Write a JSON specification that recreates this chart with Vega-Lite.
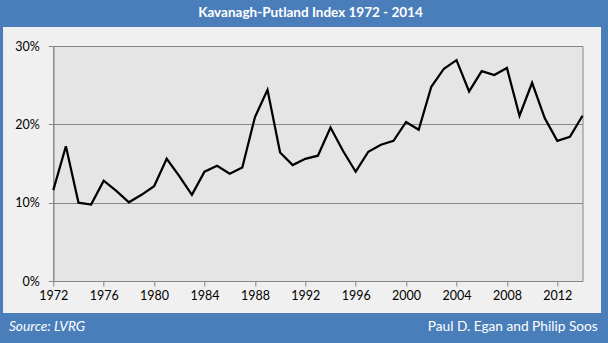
{
  "$schema": "https://vega.github.io/schema/vega-lite/v6.json",
  "autosize": "none",
  "width": 529.2,
  "height": 235,
  "padding": {"left": 53.3, "top": 46, "right": 25.5, "bottom": 62},
  "background": "#f0f0f0",
  "config": {
    "view": {"fill": "#e5e5e5", "stroke": "#868686", "strokeWidth": 1},
    "axis": {
      "domainColor": "#868686",
      "tickColor": "#868686",
      "tickSize": 5,
      "labelColor": "#000000",
      "labelFont": "Lato",
      "labelFontSize": 12.5,
      "gridColor": "#868686",
      "gridOpacity": 1,
      "title": null
    }
  },
  "data": {"values": [
    {"year": 1972, "value": 11.6},
    {"year": 1973, "value": 17.2},
    {"year": 1974, "value": 10.0},
    {"year": 1975, "value": 9.75},
    {"year": 1976, "value": 12.8},
    {"year": 1977, "value": 11.5},
    {"year": 1978, "value": 10.05},
    {"year": 1979, "value": 11.0},
    {"year": 1980, "value": 12.1},
    {"year": 1981, "value": 15.6},
    {"year": 1982, "value": 13.4},
    {"year": 1983, "value": 11.0},
    {"year": 1984, "value": 13.95},
    {"year": 1985, "value": 14.7},
    {"year": 1986, "value": 13.7},
    {"year": 1987, "value": 14.5},
    {"year": 1988, "value": 20.9},
    {"year": 1989, "value": 24.4},
    {"year": 1990, "value": 16.4},
    {"year": 1991, "value": 14.8},
    {"year": 1992, "value": 15.6},
    {"year": 1993, "value": 16.0},
    {"year": 1994, "value": 19.6},
    {"year": 1995, "value": 16.6},
    {"year": 1996, "value": 13.95},
    {"year": 1997, "value": 16.5},
    {"year": 1998, "value": 17.4},
    {"year": 1999, "value": 17.9},
    {"year": 2000, "value": 20.3},
    {"year": 2001, "value": 19.3},
    {"year": 2002, "value": 24.8},
    {"year": 2003, "value": 27.1},
    {"year": 2004, "value": 28.2},
    {"year": 2005, "value": 24.2},
    {"year": 2006, "value": 26.8},
    {"year": 2007, "value": 26.3},
    {"year": 2008, "value": 27.2},
    {"year": 2009, "value": 21.1},
    {"year": 2010, "value": 25.3},
    {"year": 2011, "value": 20.8},
    {"year": 2012, "value": 17.9},
    {"year": 2013, "value": 18.4},
    {"year": 2014, "value": 21.1}
  ]},
  "layer": [
    {
      "mark": {"type": "line", "color": "#000000", "strokeWidth": 2.25, "strokeJoin": "miter"},
      "encoding": {
        "x": {
          "field": "year", "type": "quantitative",
          "scale": {"domain": [1972, 2014], "nice": false, "zero": false},
          "axis": {"values": [1972, 1976, 1980, 1984, 1988, 1992, 1996, 2000, 2004, 2008, 2012], "format": "d", "grid": false, "labelPadding": 3, "labelFlush": false, "title": null}
        },
        "y": {
          "field": "value", "type": "quantitative",
          "scale": {"domain": [0, 30], "nice": false},
          "axis": {"values": [0, 10, 20, 30], "labelExpr": "datum.value + '%'", "grid": true, "labelPadding": 9, "title": null}
        }
      }
    },
    {
      "data": {"values": [{}]},
      "mark": {"type": "rect", "color": "#4a7ebb"},
      "encoding": {
        "x": {"datum": 1960}, "x2": {"datum": 2025},
        "y": {"datum": 32.43}, "y2": {"datum": 40}
      }
    },
    {
      "data": {"values": [{}]},
      "mark": {"type": "rect", "color": "#4a7ebb"},
      "encoding": {
        "x": {"datum": 1960}, "x2": {"datum": 2025},
        "y": {"datum": -4.085}, "y2": {"datum": -12}
      }
    },
    {
      "data": {"values": [{}]},
      "mark": {"type": "rect", "color": "#4a7ebb"},
      "encoding": {
        "x": {"datum": 1960}, "x2": {"datum": 1968.01},
        "y": {"datum": -12}, "y2": {"datum": 40}
      }
    },
    {
      "data": {"values": [{}]},
      "mark": {"type": "rect", "color": "#4a7ebb"},
      "encoding": {
        "x": {"datum": 2015.47}, "x2": {"datum": 2025},
        "y": {"datum": -12}, "y2": {"datum": 40}
      }
    },
    {
      "data": {"values": [{"label": "Kavanagh-Putland Index 1972 - 2014"}]},
      "mark": {"type": "text", "color": "#ffffff", "font": "Lato", "fontWeight": "bold", "fontSize": 13.5, "align": "center", "baseline": "middle"},
      "encoding": {
        "x": {"datum": 1992.41},
        "y": {"datum": 34.15},
        "text": {"field": "label"}
      }
    },
    {
      "data": {"values": [{"label": "Source: LVRG"}]},
      "mark": {"type": "text", "color": "#ffffff", "font": "Lato", "fontStyle": "italic", "fontSize": 13.7, "align": "left", "baseline": "middle"},
      "encoding": {
        "x": {"datum": 1968.48},
        "y": {"datum": -5.87},
        "text": {"field": "label"}
      }
    },
    {
      "data": {"values": [{"label": "Paul D. Egan and Philip Soos"}]},
      "mark": {"type": "text", "color": "#ffffff", "font": "Lato", "fontSize": 13.7, "align": "right", "baseline": "middle"},
      "encoding": {
        "x": {"datum": 2015.21},
        "y": {"datum": -5.87},
        "text": {"field": "label"}
      }
    }
  ]
}
